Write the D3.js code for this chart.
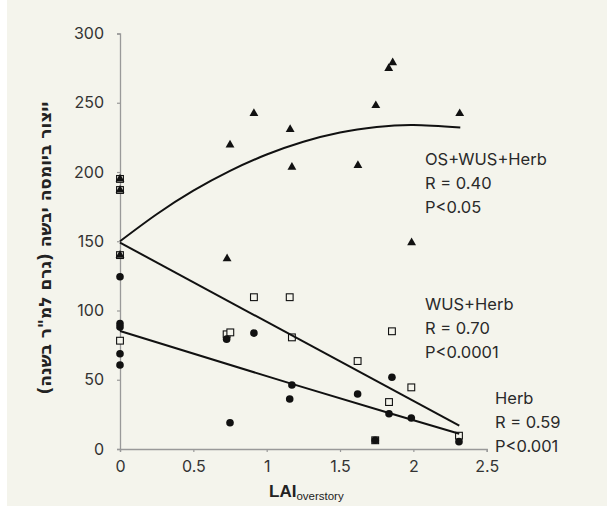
<!DOCTYPE html>
<html>
<head>
<meta charset="utf-8">
<script src="https://cdn.jsdelivr.net/npm/d3@7"></script>
<style>
  body { margin: 0; background: #fff; }
  svg { display: block; }
</style>
</head>
<body>
<div id="chart"></div>
<script>
// OS+WUS+Herb (triangles)
const osX = [0, 0, 0, 0.73, 0.75, 0.913, 1.16, 1.172, 1.622, 1.744, 1.832, 1.859, 1.988, 2.316];
const osY = [195, 187, 140, 137.4, 219.6, 242.3, 230.8, 203.5, 204.8, 248, 274.8, 278.9, 149, 242.2];
// WUS+Herb (open squares)
const wusX = [0, 0, 0, 0, 0.727, 0.752, 0.913, 1.157, 1.172, 1.62, 1.74, 1.834, 1.854, 1.986, 2.311];
const wusY = [195, 187, 140, 78.2, 82.8, 84.2, 109.6, 109.6, 80.6, 63.5, 6.3, 33.9, 85, 44.5, 9.6];
// Herb (filled circles)
const herbX = [0, 0, 0, 0, 0, 0.727, 0.75, 0.913, 1.157, 1.172, 1.62, 1.74, 1.834, 1.854, 1.986, 2.311];
const herbY = [124.4, 90.5, 88, 68.8, 60.6, 79.3, 19, 83.7, 36.1, 46.2, 39.7, 6.3, 25.5, 51.8, 22.4, 5.3];

// trend lines
const osTrendX = [0, 0.25, 0.5, 0.75, 1, 1.25, 1.5, 1.75, 2, 2.32];
const osTrendY = [150, 169.5, 186.5, 200.8, 212.6, 221.8, 228.5, 232.5, 234, 232.1];
const wusTrendX = [0, 2.313];
const wusTrendY = [149, 16.8];
const herbTrendX = [0, 1.172, 1.834, 2.313];
const herbTrendY = [85.2, 47, 26, 11];

const xTicks = [0, 0.5, 1, 1.5, 2, 2.5];
const yTicks = [0, 50, 100, 150, 200, 250, 300];

const labels = [
  {lines: ["OS+WUS+Herb", "R = 0.40", "P<0.05"], x: 425, y: 165},
  {lines: ["WUS+Herb", "R = 0.70", "P<0.0001"], x: 425, y: 310},
  {lines: ["Herb", "R = 0.59", "P<0.001"], x: 495, y: 404}
];

const width = 607, height = 506;
const svg = d3.select("#chart").append("svg")
  .attr("width", width)
  .attr("height", height);

svg.append("rect").attr("width", width).attr("height", height).attr("fill", "#f4f4ec");
svg.append("rect").attr("width", 7).attr("height", height).attr("fill", "#fff");

const x = d3.scaleLinear().domain([0, 2.5]).range([120, 486.7]);
const y = d3.scaleLinear().domain([0, 300]).range([449, 33.5]);

const tickFont = "Inter, Roboto, sans-serif";

// y axis
const yAxis = svg.append("g")
  .attr("transform", `translate(${x(0)},0)`)
  .call(d3.axisLeft(y).tickValues(yTicks).tickSize(3).tickPadding(13).tickFormat(d3.format("d")));
// x axis
const xAxis = svg.append("g")
  .attr("transform", `translate(0,${y(0)})`)
  .call(d3.axisBottom(x).tickValues(xTicks).tickSize(3).tickPadding(9).tickFormat(d => d));

[yAxis, xAxis].forEach(g => {
  g.select(".domain").attr("stroke", "#999").attr("stroke-width", 1.3);
  g.selectAll(".tick line").attr("stroke", "#999").attr("stroke-width", 1.2);
  g.selectAll(".tick text").attr("fill", "#333").style("font-family", tickFont).style("font-size", "16px");
});

// markers
svg.append("g").selectAll("rect")
  .data(d3.range(wusX.length))
  .join("rect")
  .attr("x", i => x(wusX[i]) - 3.4)
  .attr("y", i => y(wusY[i]) - 3.4)
  .attr("width", 6.8)
  .attr("height", 6.8)
  .attr("fill", "#f4f4ec")
  .attr("stroke", "#111")
  .attr("stroke-width", 1.1);

svg.append("g").selectAll("circle")
  .data(d3.range(herbX.length))
  .join("circle")
  .attr("cx", i => x(herbX[i]))
  .attr("cy", i => y(herbY[i]))
  .attr("r", 3.8)
  .attr("fill", "#111");

const tri = d3.symbol().type(d3.symbolTriangle).size(34);
svg.append("g").selectAll("path")
  .data(d3.range(osX.length))
  .join("path")
  .attr("d", tri)
  .attr("transform", i => `translate(${x(osX[i])},${y(osY[i])})`)
  .attr("fill", "#111");

// trend lines
const trends = [
  {xs: osTrendX, ys: osTrendY, curve: d3.curveNatural},
  {xs: wusTrendX, ys: wusTrendY, curve: d3.curveLinear},
  {xs: herbTrendX, ys: herbTrendY, curve: d3.curveLinear}
];
trends.forEach(t => {
  const line = d3.line().x(i => x(t.xs[i])).y(i => y(t.ys[i])).curve(t.curve);
  svg.append("path")
    .attr("d", line(d3.range(t.xs.length)))
    .attr("fill", "none")
    .attr("stroke", "#111")
    .attr("stroke-width", 2);
});

// annotations
labels.forEach(l => {
  const t = svg.append("text")
    .attr("x", l.x).attr("y", l.y)
    .attr("fill", "#2a2a2a")
    .style("font-family", tickFont)
    .style("font-size", "16.5px");
  l.lines.forEach((s, k) => {
    t.append("tspan").attr("x", l.x).attr("dy", k === 0 ? 0 : 24).text(s);
  });
});

// axis titles
const xt = svg.append("text")
  .attr("x", 269).attr("y", 497)
  .attr("fill", "#222")
  .style("font-family", "'Liberation Sans', Arial, sans-serif");
xt.append("tspan").style("font-weight", "bold").style("font-size", "17px").text("LAI");
xt.append("tspan").attr("dy", 3).style("font-size", "11.5px").text("overstory");

svg.append("text")
  .attr("transform", "translate(51,248) rotate(-90)")
  .attr("text-anchor", "middle")
  .attr("direction", "rtl")
  .attr("fill", "#222")
  .style("font-family", "'DejaVu Sans', sans-serif")
  .style("font-weight", "bold")
  .style("font-size", "17px")
  .text('ייצור ביומסה יבשה (גרם למ"ר בשנה)');
</script>
</body>
</html>
